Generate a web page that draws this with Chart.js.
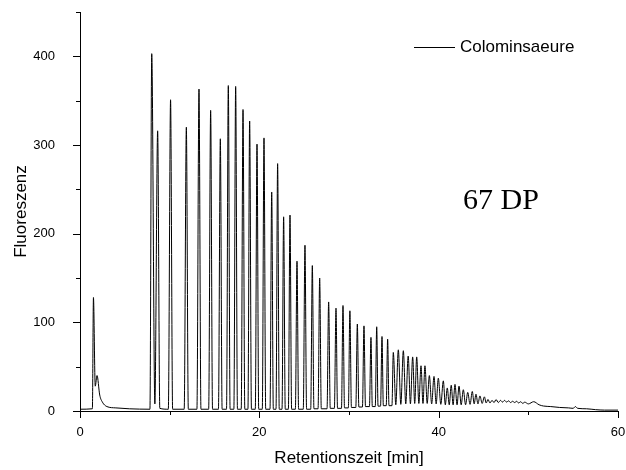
<!DOCTYPE html>
<html>
<head>
<meta charset="utf-8">
<script src="https://cdn.jsdelivr.net/npm/chart.js@4.4.1/dist/chart.umd.min.js"></script>
<style>
  html, body { margin: 0; padding: 0; background: #fff; }
</style>
</head>
<body>
<canvas id="chart" width="626" height="470"></canvas>
<script>
const SERIES_NAME = 'Colominsaeure';
const NOTE = '67 DP';
const X_TITLE = 'Retentionszeit [min]';
const Y_TITLE = 'Fluoreszenz';

// peak maxima (min, intensity)
const peakTimes = [
  1.5, 1.9,
  8.0, 8.66, 10.1, 11.86, 13.27, 14.57, 15.65, 16.54, 17.36, 18.18,
  18.92, 19.74, 20.52, 21.38, 22.04, 22.71, 23.42, 24.2, 25.09, 25.91,
  26.73, 27.73, 28.55, 29.33, 30.1, 30.93, 31.67, 32.45, 33.09, 33.68,
  34.31, 34.94, 35.5, 36.06, 36.6, 37.1, 37.55, 38.03, 38.47, 38.96,
  39.48, 39.96, 40.52, 40.96, 41.4, 41.82, 42.27, 42.75, 43.24, 43.75,
  44.16, 44.6, 45.1, 45.5, 45.95, 46.4, 46.9, 47.35, 47.8, 48.25,
  48.7, 49.15, 49.6, 50.6, 55.25
];
const peakHeights = [
  128, 40,
  403, 316, 351, 320, 363, 339, 307, 367, 366, 340,
  327, 301, 308, 247, 279, 219, 221, 169, 187, 164,
  150, 123, 116, 119, 113, 98, 96, 83, 95, 84,
  81, 66, 69, 68, 62, 61, 61, 51, 51, 40,
  39, 37, 34, 26, 29, 30, 28, 24, 21, 22,
  19, 17, 16, 13, 12, 13, 12, 12, 11.5, 11,
  11, 10.5, 10, 10.5, 5
];

// baseline / valley points between the peaks
const valleyTimes = [
  0, 1.38, 1.7, 2.2, 2.5, 3.0, 4.0, 5.5, 7.8,
  8.35, 8.9, 9.85, 10.33, 11.62, 12.08, 13.04, 13.49, 14.35, 14.78,
  15.44, 15.85, 16.34, 16.74, 17.16, 17.56, 17.98, 18.38, 18.73, 19.12,
  19.55, 19.93, 20.33, 20.71, 21.19, 21.56, 21.86, 22.22, 22.53, 22.89,
  23.24, 23.6, 24.02, 24.38, 24.9, 25.27, 25.73,
  26.09, 26.55, 26.91, 27.55, 27.91, 28.37, 28.72, 29.16, 29.5, 29.93,
  30.27, 30.76, 31.1, 31.5, 31.84, 32.28, 32.6, 32.93, 33.24, 33.52,
  33.83, 34.15, 34.46, 34.79,
  35.22, 35.78, 36.33, 36.85, 37.33, 37.79, 38.25, 38.72, 39.22, 39.72,
  40.24, 40.74, 41.18, 41.61, 42.05, 42.51, 43.0, 43.5, 43.96, 44.38,
  44.85, 45.3, 45.72, 46.18, 46.65, 47.12, 47.58, 48.02, 48.48, 48.92,
  49.38, 50.0,
  51.2, 51.7, 52.5, 53.5, 54.5, 55.0, 55.5, 56.5, 57.5, 58.5, 60
];
const valleyLevels = [
  2, 2.5, 28, 18, 10, 5, 3.5, 2.5, 2,
  8, 3, 2, 2, 2, 2, 2, 2, 2, 2,
  2, 2, 2, 2, 2, 2, 2, 2, 2, 2,
  2, 2, 2, 2, 2, 2, 2, 2, 2, 2,
  2, 2, 2, 2, 2, 2, 2,
  2.5, 2.5, 2.5, 2.5, 3, 3, 3, 3, 3.5, 3.5,
  4, 4, 4.5, 4.5, 5, 5, 5, 5, 5.5, 5.5,
  6, 6, 6, 6,
  7, 7.5, 8, 8, 8.5, 8.5, 8.5, 8.5, 8, 8,
  7.5, 7, 7, 7, 7, 7, 7, 7.5, 8, 8,
  8.5, 9, 9, 9.5, 9.5, 10, 10, 9.5, 9.5, 9,
  8.5, 8,
  7, 5.6, 5, 4, 3.5, 3, 3, 2.5, 1.5, 1, 1
];

const points = peakTimes.map((t, i) => ({ x: t, y: peakHeights[i] }))
  .concat(valleyTimes.map((t, i) => ({ x: t, y: valleyLevels[i] })))
  .sort((a, b) => a.x - b.x);

const SANS = '"Liberation Sans", Arial, sans-serif';

// outward tick marks (major + minor), legend and the DP note
const decor = {
  id: 'decor',
  afterDraw(chart) {
    const ctx = chart.ctx;
    const xs = chart.scales.x, ys = chart.scales.y;
    const area = chart.chartArea;
    ctx.save();
    ctx.strokeStyle = '#000';
    ctx.lineWidth = 1;
    ctx.beginPath();
    xs.ticks.forEach(t => {
      const px = Math.round(xs.getPixelForValue(t.value)) + 0.5;
      const len = t.value % 20 === 0 ? 7 : 4;
      ctx.moveTo(px, area.bottom);
      ctx.lineTo(px, area.bottom + len);
    });
    ys.ticks.forEach(t => {
      const py = Math.round(ys.getPixelForValue(t.value)) + 0.5;
      const len = t.value % 100 === 0 ? 7 : 4;
      ctx.moveTo(area.left, py);
      ctx.lineTo(area.left - len, py);
    });
    ctx.stroke();

    // legend
    ctx.beginPath();
    ctx.moveTo(414, 47.5);
    ctx.lineTo(455, 47.5);
    ctx.stroke();
    ctx.fillStyle = '#000';
    ctx.font = '17px ' + SANS;
    ctx.textBaseline = 'middle';
    ctx.textAlign = 'left';
    ctx.fillText(SERIES_NAME, 460, 47);

    ctx.font = '30px "Liberation Serif", "Times New Roman", serif';
    ctx.textBaseline = 'alphabetic';
    ctx.fillText(NOTE, 463, 209);
    ctx.restore();
  }
};

new Chart(document.getElementById('chart'), {
  type: 'line',
  data: {
    datasets: [{
      label: SERIES_NAME,
      data: points,
      borderColor: '#000',
      borderWidth: 1,
      pointRadius: 0,
      fill: false,
      cubicInterpolationMode: 'monotone'
    }]
  },
  options: {
    responsive: false,
    animation: false,
    devicePixelRatio: 1,
    layout: { padding: { left: 0, right: 8, top: 12, bottom: 0 } },
    plugins: { legend: { display: false }, tooltip: { enabled: false } },
    scales: {
      x: {
        type: 'linear',
        min: 0, max: 60,
        afterFit(s) { s.height = 59; s.paddingLeft = 0; s.paddingRight = 0; },
        grid: { display: false },
        border: { display: true, color: '#000', width: 1 },
        ticks: {
          stepSize: 10,
          autoSkip: false,
          maxRotation: 0,
          padding: 6,
          color: '#000',
          font: { family: SANS, size: 13 },
          callback: v => (v % 20 === 0 ? v : '')
        },
        title: {
          display: true, text: X_TITLE, color: '#000',
          font: { family: SANS, size: 17 },
          padding: { top: 0, bottom: 1 }
        }
      },
      y: {
        min: 0, max: 450,
        afterFit(s) { s.width = 80; s.paddingTop = 0; s.paddingBottom = 0; },
        grid: { display: false },
        border: { display: true, color: '#000', width: 1 },
        ticks: {
          stepSize: 50,
          autoSkip: false,
          padding: 17,
          color: '#000',
          font: { family: SANS, size: 13 },
          callback: v => (v % 100 === 0 ? v : '')
        },
        title: {
          display: true, text: Y_TITLE, color: '#000',
          font: { family: SANS, size: 17 },
          padding: { top: 11, bottom: 0 }
        }
      }
    }
  },
  plugins: [decor]
});
</script>
</body>
</html>
